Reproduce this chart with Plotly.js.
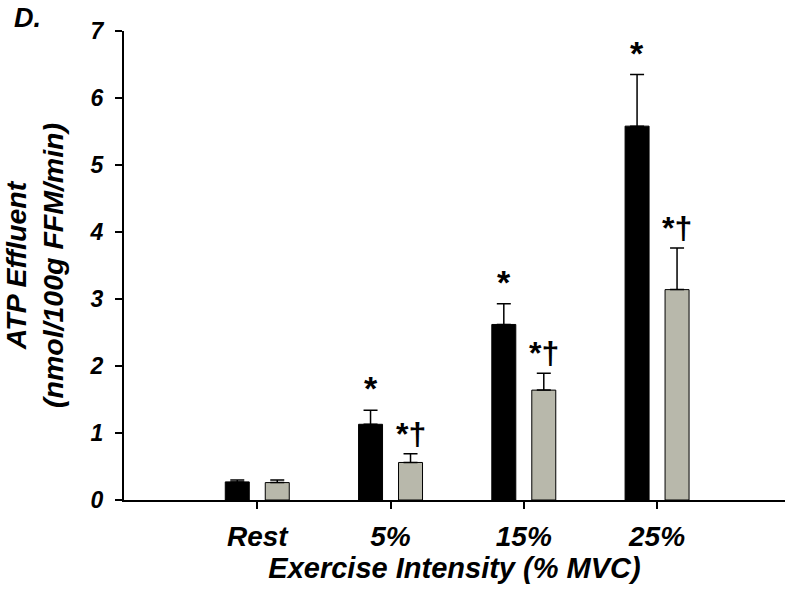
<!DOCTYPE html>
<html>
<head>
<meta charset="utf-8">
<script src="https://cdn.plot.ly/plotly-3.0.1.min.js"></script>
<style>
  html, body { margin: 0; padding: 0; background: #fff; }
  #chart { width: 800px; height: 600px; }
</style>
</head>
<body>
<div id="chart"></div>
<script>
// categories on the x axis
const categories = ['Rest', '5%', '15%', '25%'];
const catPos = [0, 1, 2, 3];

// black bars (first condition)
const blackVals = [0.27, 1.13, 2.62, 5.58];
const blackErr = [0.03, 0.21, 0.31, 0.77];

// gray bars (second condition)
const grayVals = [0.26, 0.56, 1.64, 3.14];
const grayErr = [0.04, 0.13, 0.25, 0.62];

// significance marks above each bar
const blackMarks = ['', '*', '*', '*'];
const grayMarks = ['', '*†', '*†', '*†'];

const yTicks = [0, 1, 2, 3, 4, 5, 6, 7];

const baseFont = 'Liberation Sans, Arial, sans-serif';
const bi = s => '<b><i>' + s + '</i></b>';

const traces = [
  {
    type: 'bar',
    x: catPos,
    y: blackVals,
    marker: { color: '#000000', line: { color: '#000000', width: 1 } },
    error_y: {
      type: 'data', array: blackErr, arrayminus: blackErr.map(() => 0),
      symmetric: false, color: '#000', thickness: 1.5, width: 7
    },
    hoverinfo: 'skip'
  },
  {
    type: 'bar',
    x: catPos,
    y: grayVals,
    marker: { color: '#b8b8ab', line: { color: '#000000', width: 1 } },
    error_y: {
      type: 'data', array: grayErr, arrayminus: grayErr.map(() => 0),
      symmetric: false, color: '#000', thickness: 1.5, width: 7
    },
    hoverinfo: 'skip'
  }
];

// star / dagger marks sit just above each error cap
const annotations = [];
catPos.forEach((p, i) => {
  if (blackMarks[i]) {
    annotations.push({
      x: p - 0.15, y: blackVals[i] + blackErr[i], xref: 'x', yref: 'y',
      text: '<b>' + blackMarks[i] + '</b>', showarrow: false,
      yanchor: 'bottom', yshift: 1,
      font: { family: baseFont, size: 34, color: '#000' }
    });
  }
  if (grayMarks[i]) {
    annotations.push({
      x: p + 0.15, y: grayVals[i] + grayErr[i], xref: 'x', yref: 'y',
      text: '<b>' + grayMarks[i] + '</b>', showarrow: false,
      yanchor: 'bottom', yshift: 0,
      font: { family: baseFont, size: 32, color: '#000' }
    });
  }
});

// panel letter in the top-left corner
annotations.push({
  x: -0.17, y: 1.028, xref: 'paper', yref: 'paper',
  xanchor: 'left', yanchor: 'middle',
  text: bi('D.'), showarrow: false,
  font: { family: baseFont, size: 27, color: '#000' }
});

const layout = {
  width: 800,
  height: 600,
  margin: { l: 124, r: 15, t: 31, b: 100 },
  paper_bgcolor: '#fff',
  plot_bgcolor: '#fff',
  showlegend: false,
  barmode: 'group',
  bargap: 0.4,
  bargroupgap: 0.4,
  xaxis: {
    range: [-1, 3.96],
    tickvals: catPos,
    ticktext: categories.map(bi),
    ticks: 'outside', ticklen: 7, tickwidth: 2, tickcolor: '#000',
    ticklabelstandoff: 3,
    showline: true, linecolor: '#000', linewidth: 2,
    showgrid: false, zeroline: false,
    tickfont: { family: baseFont, size: 28, color: '#000' },
    title: {
      text: bi('Exercise Intensity (% MVC)'),
      font: { family: baseFont, size: 29, color: '#000' },
      standoff: 4
    }
  },
  yaxis: {
    range: [0, 7],
    tickvals: yTicks,
    ticktext: yTicks.map(t => bi(String(t))),
    ticks: 'outside', ticklen: 7, tickwidth: 2, tickcolor: '#000',
    ticklabelstandoff: 7,
    showline: true, linecolor: '#000', linewidth: 2,
    showgrid: false, zeroline: false,
    tickfont: { family: baseFont, size: 23, color: '#000' },
    title: {
      text: bi('ATP Effluent<br>(nmol/100g FFM/min)'),
      font: { family: baseFont, size: 28.5, color: '#000' },
      standoff: 22
    }
  },
  annotations: annotations
};

Plotly.newPlot('chart', traces, layout, { staticPlot: true });
</script>
</body>
</html>
